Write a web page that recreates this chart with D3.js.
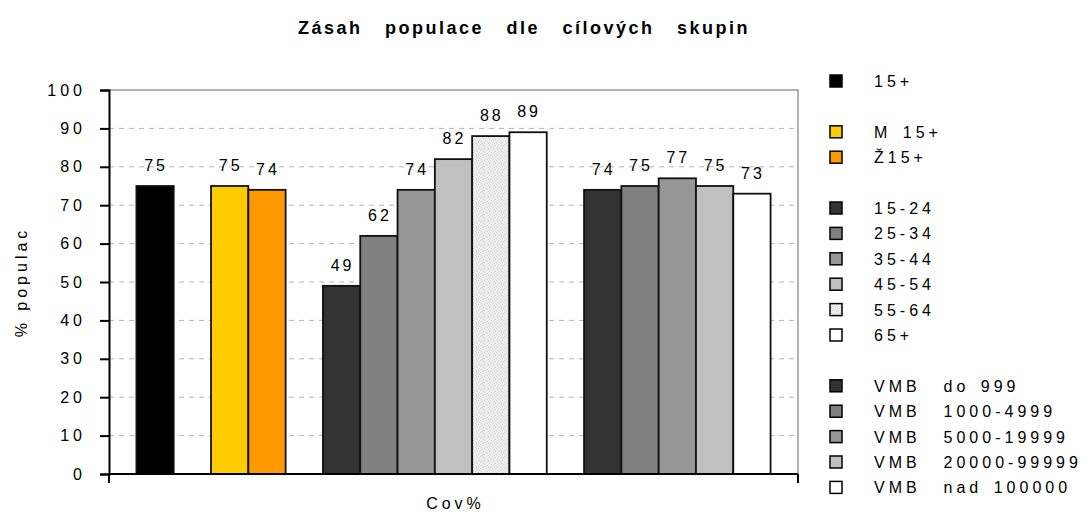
<!DOCTYPE html>
<html>
<head>
<meta charset="utf-8">
<script src="https://cdn.jsdelivr.net/npm/d3@7"></script>
<style>
    body { margin: 0; background: #fff; }
    svg text { font-family: "Liberation Sans", Arial, sans-serif; fill: #000; }
</style>
</head>
<body>
<svg id="chart" width="1083" height="515"></svg>
<script>
// series in legend order, null = empty spacer slot (as in the original sheet)
const seriesNames = ['15+', null, 'M 15+', 'Ž15+', null,
    '15-24', '25-34', '35-44', '45-54', '55-64', '65+', null,
    'VMB  do 999', 'VMB  1000-4999', 'VMB  5000-19999', 'VMB  20000-99999', 'VMB  nad 100000'];
const seriesValues = [75, null, 75, 74, null, 49, 62, 74, 82, 88, 89, null, 74, 75, 77, 75, 73];
const seriesColors = ['#000000', null, '#ffcc00', '#ff9900', null,
    '#333333', '#808080', '#969696', '#c0c0c0', 'url(#speckle)', '#ffffff', null,
    '#333333', '#808080', '#969696', '#c0c0c0', '#ffffff'];
const yTicks = [0, 10, 20, 30, 40, 50, 60, 70, 80, 90, 100];
const categoryLabel = 'Cov%';
const yLabel = '% populac';
const title = 'Zásah populace dle cílových skupin';

const svg = d3.select('#chart');
const plot = { left: 109, right: 798, top: 90, bottom: 474 };

// speckled fill for the 55-64 bar
const defs = svg.append('defs');
const pat = defs.append('pattern')
    .attr('id', 'speckle')
    .attr('width', 6).attr('height', 6)
    .attr('patternUnits', 'userSpaceOnUse');
pat.append('rect').attr('width', 6).attr('height', 6).attr('fill', '#ececec');
[[0, 0], [3, 1], [1, 3], [4, 4], [5, 2], [2, 5]].forEach(([x, y], i) => {
    pat.append('rect').attr('x', x).attr('y', y).attr('width', 1).attr('height', 1)
        .attr('fill', i % 2 ? '#cfcfcf' : '#dadada');
});

const xScale = d3.scaleBand()
    .domain(d3.range(seriesNames.length))
    .range([plot.left, plot.right])
    .paddingInner(0)
    .paddingOuter(0.735);

const yScale = d3.scaleLinear()
    .domain([0, 100])
    .range([plot.bottom, plot.top]);

// title
svg.append('text')
    .attr('x', 524).attr('y', 34)
    .attr('text-anchor', 'middle')
    .attr('font-size', '18px')
    .attr('font-weight', 'bold')
    .attr('letter-spacing', '2.5px')
    .attr('word-spacing', '15px')
    .text(title);

// gridlines
svg.append('g')
    .selectAll('line')
    .data(yTicks.filter(t => t > 0 && t < 100))
    .enter()
    .append('line')
    .attr('x1', plot.left).attr('x2', plot.right)
    .attr('y1', d => yScale(d)).attr('y2', d => yScale(d))
    .attr('stroke', '#b4b4b4')
    .attr('stroke-width', 1)
    .attr('stroke-dasharray', '5,5');

// plot area frame (top + right)
svg.append('path')
    .attr('d', `M${plot.left},${plot.top}H${plot.right}V${plot.bottom}`)
    .attr('fill', 'none')
    .attr('stroke', '#9a9a9a')
    .attr('stroke-width', 1.5);

// bars
const barData = seriesValues
    .map((v, i) => ({ i, v, color: seriesColors[i] }))
    .filter(d => d.v !== null);

svg.append('g')
    .selectAll('.bar')
    .data(barData)
    .enter()
    .append('rect')
    .attr('class', 'bar')
    .attr('x', d => xScale(d.i))
    .attr('y', d => yScale(d.v))
    .attr('width', xScale.bandwidth())
    .attr('height', d => yScale(0) - yScale(d.v))
    .attr('fill', d => d.color)
    .attr('stroke', '#111')
    .attr('stroke-width', 1.8);

// value labels
svg.append('g')
    .selectAll('.bar-label')
    .data(barData)
    .enter()
    .append('text')
    .attr('class', 'bar-label')
    .attr('x', d => xScale(d.i) + xScale.bandwidth() / 2 + 1)
    .attr('y', d => yScale(d.v) - 15)
    .attr('text-anchor', 'middle')
    .attr('font-size', '16px')
    .attr('letter-spacing', '3px')
    .text(d => d.v);

// y axis
const yAxis = svg.append('g')
    .attr('transform', `translate(${plot.left},0)`)
    .call(d3.axisLeft(yScale).tickValues(yTicks).tickSize(9).tickPadding(14));
yAxis.select('.domain').attr('stroke', '#000').attr('stroke-width', 2);
yAxis.selectAll('.tick line').attr('stroke', '#000').attr('stroke-width', 2);
yAxis.selectAll('.tick text')
    .attr('font-size', '16px')
    .attr('letter-spacing', '4px')
    .attr('fill', '#000')
    .attr('font-family', '"Liberation Sans", Arial, sans-serif');

// x axis: single category, ticks only at both ends
svg.append('line')
    .attr('x1', plot.left).attr('x2', plot.right)
    .attr('y1', plot.bottom).attr('y2', plot.bottom)
    .attr('stroke', '#000').attr('stroke-width', 2);
svg.append('g')
    .selectAll('line')
    .data([plot.left, plot.right])
    .enter()
    .append('line')
    .attr('x1', d => d).attr('x2', d => d)
    .attr('y1', plot.bottom).attr('y2', plot.bottom + 9)
    .attr('stroke', '#000').attr('stroke-width', 2);

svg.append('text')
    .attr('x', (plot.left + plot.right) / 2 + 2)
    .attr('y', 509)
    .attr('text-anchor', 'middle')
    .attr('font-size', '16px')
    .attr('letter-spacing', '4px')
    .text(categoryLabel);

svg.append('text')
    .attr('transform', `translate(27,${(plot.top + plot.bottom) / 2}) rotate(-90)`)
    .attr('text-anchor', 'middle')
    .attr('font-size', '16px')
    .attr('letter-spacing', '4px')
    .text(yLabel);

// legend (spacer rows keep their slot)
const legendRows = seriesNames.map((name, i) => ({ name, color: seriesColors[i], i }))
    .filter(d => d.name !== null);
const rowY = i => 81 + i * 25.4;

const legend = svg.append('g').attr('class', 'legend');
legend.selectAll('rect')
    .data(legendRows)
    .enter()
    .append('rect')
    .attr('x', 830)
    .attr('y', d => rowY(d.i) - 6)
    .attr('width', 12).attr('height', 12)
    .attr('fill', d => d.color)
    .attr('stroke', '#000')
    .attr('stroke-width', 1.5);
legend.selectAll('text')
    .data(legendRows)
    .enter()
    .append('text')
    .attr('x', 874)
    .attr('y', d => rowY(d.i) + 6)
    .attr('font-size', '16px')
    .attr('letter-spacing', '4px')
    .attr('word-spacing', '3px')
    .style('white-space', 'pre')
    .text(d => d.name);
</script>
</body>
</html>
